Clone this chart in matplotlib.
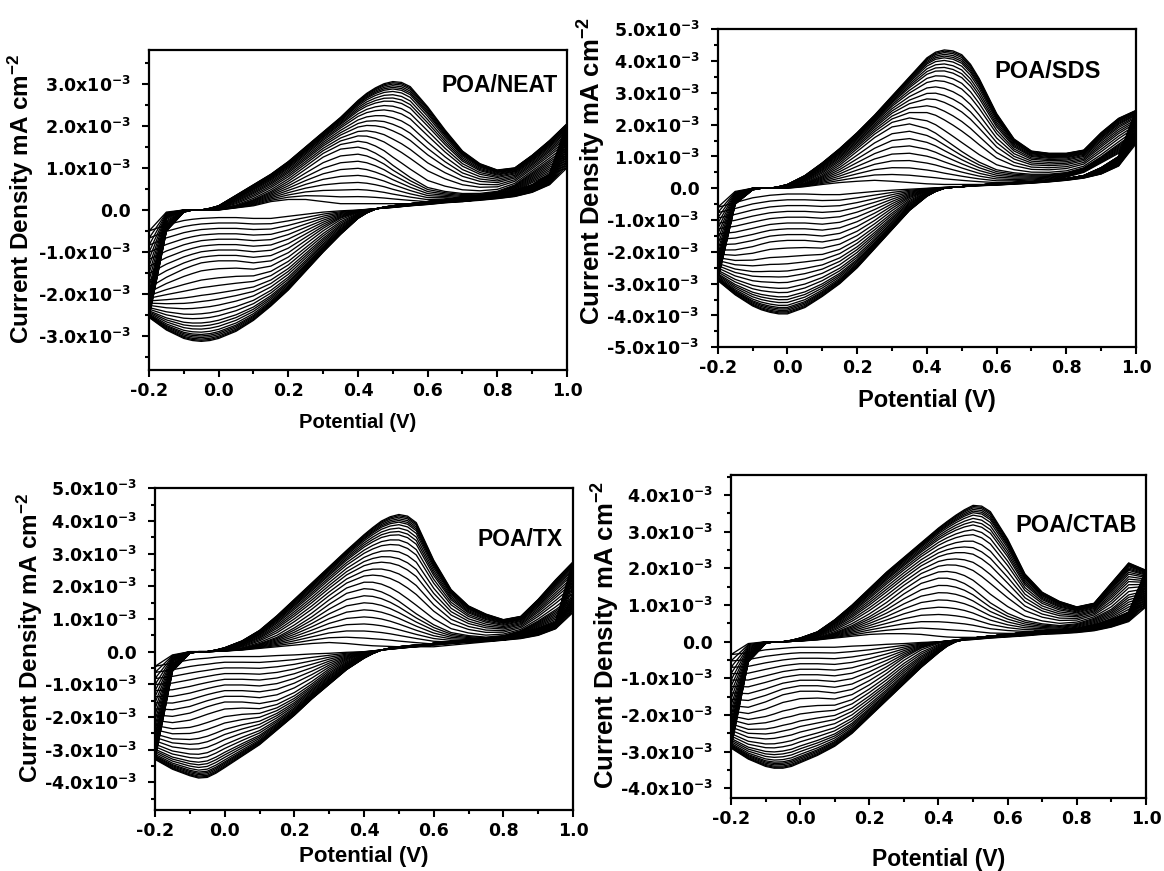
import numpy as np
import matplotlib
matplotlib.use("Agg")
import matplotlib.pyplot as plt
from matplotlib.ticker import MultipleLocator, FuncFormatter

plt.rcParams["font.family"] = ["Liberation Sans", "DejaVu Sans"]
plt.rcParams["font.weight"] = "bold"
plt.rcParams["mathtext.default"] = "regular"

# potential grid (V), shared by every sweep
potential = [-0.2, -0.15, -0.1, -0.075, -0.05, -0.025, 0.0, 0.05, 0.1, 0.15, 0.2, 0.25, 0.3,
             0.35, 0.4, 0.425, 0.45, 0.475, 0.5, 0.525, 0.55, 0.6, 0.65, 0.7, 0.75, 0.8,
             0.85, 0.9, 0.95, 1.0]

# relative position of each recorded cycle between first (0), middle (0.5) and last (1)
cycle_levels = [0.0, 0.06, 0.12, 0.18, 0.24, 0.3, 0.36, 0.42, 0.48, 0.54, 0.6, 0.65, 0.7,
                0.74, 0.78, 0.82, 0.85, 0.88, 0.9, 0.92, 0.94, 0.955, 0.965, 0.975, 0.985,
                0.993, 1.0]

# current density in units of 1e-3 mA cm^-2, anodic (ox) and cathodic (red) sweeps
neat_ox_first = [-0.5, -0.05, 0.0, 0.0, 0.0, 0.0, 0.0, 0.05, 0.1, 0.2, 0.25, 0.25, 0.2, 0.15,
                 0.15, 0.15, 0.15, 0.15, 0.15, 0.15, 0.15, 0.15, 0.2, 0.2, 0.25, 0.3, 0.45,
                 0.65, 0.85, 1.0]
neat_ox_mid = [-1.9, -0.2, 0.0, 0.0, 0.0, 0.01, 0.02, 0.1, 0.25, 0.45, 0.7, 1.0, 1.3, 1.5,
               1.55, 1.5, 1.4, 1.27, 1.1, 0.95, 0.8, 0.55, 0.45, 0.4, 0.4, 0.45, 0.6, 0.9,
               1.2, 1.5]
neat_ox_last = [-2.55, -0.5, -0.05, 0.0, 0.0, 0.04, 0.1, 0.35, 0.6, 0.85, 1.15, 1.5, 1.85,
                2.2, 2.6, 2.77, 2.9, 3.0, 3.05, 3.03, 2.93, 2.45, 1.9, 1.4, 1.1, 0.95, 1.0,
                1.3, 1.65, 2.05]
neat_red_first = [-0.5, -0.35, -0.25, -0.22, -0.2, -0.19, -0.18, -0.18, -0.2, -0.2, -0.15,
                  -0.1, -0.05, -0.02, 0.0, 0.015, 0.03, 0.045, 0.06, 0.08, 0.1, 0.13, 0.17,
                  0.2, 0.23, 0.27, 0.32, 0.42, 0.6, 1.0]
neat_red_mid = [-1.9, -1.65, -1.45, -1.37, -1.3, -1.27, -1.25, -1.25, -1.3, -1.25, -1.05,
                -0.75, -0.45, -0.2, -0.05, -0.01, 0.03, 0.055, 0.08, 0.1, 0.12, 0.17, 0.22,
                0.27, 0.3, 0.33, 0.38, 0.48, 0.7, 1.5]
neat_red_last = [-2.55, -2.85, -3.05, -3.1, -3.12, -3.1, -3.05, -2.88, -2.62, -2.28, -1.9,
                 -1.45, -1.0, -0.58, -0.2, -0.07, 0.02, 0.07, 0.1, 0.13, 0.15, 0.2, 0.25,
                 0.3, 0.35, 0.4, 0.45, 0.6, 0.85, 2.05]

sds_ox_first = [-0.6, -0.1, 0.0, 0.0, 0.0, 0.0, 0.0, 0.05, 0.12, 0.18, 0.22, 0.25, 0.22,
                0.18, 0.14, 0.13, 0.12, 0.12, 0.12, 0.12, 0.12, 0.12, 0.15, 0.2, 0.25, 0.35,
                0.5, 0.8, 1.1, 1.4]
sds_ox_mid = [-2.0, -0.3, 0.0, 0.0, 0.0, 0.02, 0.05, 0.15, 0.4, 0.75, 1.2, 1.65, 2.0, 2.1,
              1.95, 1.8, 1.6, 1.4, 1.2, 1.02, 0.85, 0.6, 0.5, 0.45, 0.45, 0.5, 0.65, 1.0,
              1.4, 1.8]
sds_ox_last = [-2.9, -0.5, -0.05, 0.0, 0.0, 0.05, 0.12, 0.4, 0.8, 1.25, 1.75, 2.3, 2.9, 3.5,
               4.1, 4.28, 4.35, 4.32, 4.2, 3.9, 3.45, 2.35, 1.55, 1.17, 1.1, 1.1, 1.2, 1.75,
               2.2, 2.45]
sds_red_first = [-0.6, -0.45, -0.3, -0.26, -0.22, -0.2, -0.18, -0.18, -0.2, -0.2, -0.15,
                 -0.1, -0.06, -0.03, 0.0, 0.015, 0.03, 0.04, 0.05, 0.065, 0.08, 0.1, 0.13,
                 0.16, 0.2, 0.25, 0.32, 0.45, 0.7, 1.4]
sds_red_mid = [-2.0, -2.0, -1.9, -1.82, -1.75, -1.72, -1.7, -1.7, -1.75, -1.65, -1.4, -1.05,
               -0.65, -0.3, -0.1, -0.05, 0.0, 0.03, 0.05, 0.08, 0.1, 0.13, 0.17, 0.2, 0.25,
               0.3, 0.38, 0.5, 0.8, 1.8]
sds_red_last = [-2.9, -3.35, -3.7, -3.82, -3.9, -3.95, -3.95, -3.75, -3.4, -3.0, -2.5, -1.9,
                -1.3, -0.7, -0.25, -0.1, 0.0, 0.03, 0.05, 0.08, 0.1, 0.15, 0.18, 0.2, 0.25,
                0.3, 0.4, 0.65, 1.0, 2.45]

tx_ox_first = [-0.45, -0.1, 0.0, 0.0, 0.0, 0.01, 0.02, 0.05, 0.1, 0.15, 0.2, 0.25, 0.28,
               0.25, 0.2, 0.18, 0.17, 0.16, 0.15, 0.15, 0.15, 0.15, 0.2, 0.25, 0.3, 0.35,
               0.5, 0.7, 0.9, 1.2]
tx_ox_mid = [-2.0, -0.3, 0.0, 0.0, 0.0, 0.01, 0.03, 0.1, 0.25, 0.45, 0.75, 1.1, 1.5, 1.85,
             2.0, 1.98, 1.9, 1.77, 1.6, 1.4, 1.2, 0.85, 0.6, 0.5, 0.45, 0.5, 0.65, 0.95,
             1.3, 1.7]
tx_ox_last = [-3.3, -0.6, -0.05, 0.0, 0.0, 0.05, 0.12, 0.33, 0.65, 1.1, 1.6, 2.1, 2.6, 3.1,
              3.58, 3.8, 4.0, 4.13, 4.2, 4.15, 3.95, 2.8, 1.9, 1.4, 1.15, 0.98, 1.08, 1.6,
              2.2, 2.75]
tx_red_first = [-0.45, -0.35, -0.25, -0.22, -0.2, -0.17, -0.15, -0.15, -0.15, -0.12, -0.1,
                -0.07, -0.05, -0.02, 0.0, 0.025, 0.05, 0.075, 0.1, 0.125, 0.15, 0.2, 0.25,
                0.3, 0.33, 0.35, 0.4, 0.5, 0.7, 1.2]
tx_red_mid = [-2.0, -2.05, -1.95, -1.85, -1.75, -1.67, -1.6, -1.6, -1.65, -1.55, -1.3,
              -0.95, -0.55, -0.25, -0.05, 0.0, 0.05, 0.09, 0.12, 0.15, 0.18, 0.25, 0.3,
              0.35, 0.38, 0.4, 0.5, 0.6, 0.8, 1.7]
tx_red_last = [-3.3, -3.6, -3.8, -3.87, -3.85, -3.72, -3.55, -3.2, -2.85, -2.4, -1.95,
               -1.45, -1.0, -0.55, -0.2, -0.06, 0.05, 0.11, 0.15, 0.18, 0.2, 0.25, 0.3,
               0.35, 0.4, 0.45, 0.55, 0.7, 0.9, 2.75]

ctab_ox_first = [-0.35, -0.05, 0.0, 0.0, 0.0, 0.01, 0.02, 0.05, 0.1, 0.15, 0.2, 0.22, 0.22,
                 0.2, 0.15, 0.13, 0.12, 0.12, 0.12, 0.12, 0.12, 0.15, 0.18, 0.22, 0.25, 0.3,
                 0.4, 0.55, 0.75, 0.95]
ctab_ox_mid = [-1.8, -0.3, 0.0, 0.0, 0.0, 0.01, 0.03, 0.1, 0.25, 0.45, 0.7, 1.0, 1.35, 1.65,
               1.8, 1.8, 1.75, 1.65, 1.5, 1.3, 1.1, 0.8, 0.6, 0.5, 0.45, 0.5, 0.65, 0.9,
               1.3, 1.4]
ctab_ox_last = [-2.9, -0.55, -0.05, 0.0, 0.0, 0.04, 0.1, 0.27, 0.6, 1.0, 1.45, 1.9, 2.3,
                2.7, 3.1, 3.28, 3.45, 3.6, 3.72, 3.7, 3.55, 2.8, 1.85, 1.35, 1.1, 0.95, 1.05,
                1.6, 2.15, 1.95]
ctab_red_first = [-0.35, -0.3, -0.22, -0.2, -0.18, -0.16, -0.15, -0.15, -0.15, -0.12, -0.1,
                  -0.07, -0.05, -0.02, 0.0, 0.015, 0.03, 0.045, 0.06, 0.08, 0.1, 0.13, 0.16,
                  0.2, 0.22, 0.25, 0.3, 0.4, 0.55, 0.95]
ctab_red_mid = [-1.8, -1.85, -1.7, -1.6, -1.5, -1.45, -1.4, -1.4, -1.45, -1.35, -1.1, -0.8,
                -0.45, -0.18, -0.02, 0.02, 0.05, 0.08, 0.1, 0.13, 0.15, 0.2, 0.25, 0.3, 0.32,
                0.35, 0.42, 0.5, 0.7, 1.4]
ctab_red_last = [-2.9, -3.2, -3.4, -3.45, -3.45, -3.4, -3.3, -3.1, -2.85, -2.5, -2.05, -1.6,
                 -1.15, -0.7, -0.3, -0.12, 0.0, 0.06, 0.1, 0.13, 0.15, 0.2, 0.25, 0.3, 0.32,
                 0.35, 0.45, 0.6, 0.8, 1.95]

panel_names = ["POA/NEAT", "POA/SDS", "POA/TX", "POA/CTAB"]
panel_ylims = [(-3.8e-3, 3.8e-3), (-5e-3, 5e-3), (-4.85e-3, 5e-3), (-4.27e-3, 4.55e-3)]


def cycle_curve(first, mid, last, f):
    first, mid, last = np.asarray(first), np.asarray(mid), np.asarray(last)
    if f <= 0.5:
        return first + (mid - first) * f / 0.5
    return mid + (last - mid) * (f - 0.5) / 0.5


def y_fmt(v, pos):
    if abs(v) < 1e-9:
        return "0.0"
    return f"{v * 1e3:.1f}x10$^{{-3}}$"


def x_fmt(v, pos):
    return f"{round(v, 1) + 0.0:.1f}"


panels = [
    # data, axes rect, title pos, sizes (title, ylabel, xlabel), ylabel coords, xlabel y
    ((neat_ox_first, neat_ox_mid, neat_ox_last, neat_red_first, neat_red_mid, neat_red_last),
     [0.1280, 0.5752, 0.3591, 0.3674], (0.978, 0.89), (16.5, 17.5, 14.5), (-0.27, 0.534), -0.135),
    ((sds_ox_first, sds_ox_mid, sds_ox_last, sds_red_first, sds_red_mid, sds_red_last),
     [0.6166, 0.6013, 0.3594, 0.3651], (0.915, 0.866), (17, 18.5, 17), (-0.262, 0.554), -0.13),
    ((tx_ox_first, tx_ox_mid, tx_ox_last, tx_red_first, tx_red_mid, tx_red_last),
     [0.1332, 0.0700, 0.3591, 0.3693], (0.974, 0.84), (16.5, 17.5, 16), (-0.263, 0.536), -0.112),
    ((ctab_ox_first, ctab_ox_mid, ctab_ox_last, ctab_red_first, ctab_red_mid, ctab_red_last),
     [0.6280, 0.0835, 0.3565, 0.3712], (0.978, 0.845), (17, 18.5, 16.5), (-0.262, 0.505), -0.155),
]

fig = plt.figure(figsize=(11.64, 8.71), dpi=100)
E = np.array(potential)

for i, (data, rect, tpos, sizes, ylc, xly) in enumerate(panels):
    ox_first, ox_mid, ox_last, red_first, red_mid, red_last = data
    ax = fig.add_axes(rect)
    for f in cycle_levels:
        ox = cycle_curve(ox_first, ox_mid, ox_last, f) * 1e-3
        red = cycle_curve(red_first, red_mid, red_last, f) * 1e-3
        ax.plot(np.concatenate([E, E[::-1]]), np.concatenate([ox, red[::-1]]),
                color="black", lw=0.95)

    ax.set_xlim(-0.2, 1.0)
    ax.set_ylim(*panel_ylims[i])
    ax.xaxis.set_major_locator(MultipleLocator(0.2))
    ax.xaxis.set_minor_locator(MultipleLocator(0.1))
    ax.yaxis.set_major_locator(MultipleLocator(1e-3))
    ax.yaxis.set_minor_locator(MultipleLocator(0.5e-3))
    ax.xaxis.set_major_formatter(FuncFormatter(x_fmt))
    ax.yaxis.set_major_formatter(FuncFormatter(y_fmt))
    ax.tick_params(which="both", direction="out", width=1.5, top=False, right=False,
                   labelsize=12.5, labelfontfamily="DejaVu Sans")
    ax.tick_params(which="major", length=5)
    ax.tick_params(which="minor", length=3)
    ax.tick_params(axis="y", which="major", pad=8)
    for s in ax.spines.values():
        s.set_linewidth(1.6)

    ax.text(tpos[0], tpos[1], panel_names[i], transform=ax.transAxes, ha="right",
            va="center", fontsize=sizes[0], fontweight="bold")
    ax.set_ylabel("Current Density mA cm$^{-2}$", fontsize=sizes[1], fontweight="bold")
    ax.yaxis.set_label_coords(*ylc)
    ax.set_xlabel("Potential (V)", fontsize=sizes[2], fontweight="bold")
    ax.xaxis.set_label_coords(0.5, xly)

fig.savefig("out.png", dpi=100)
